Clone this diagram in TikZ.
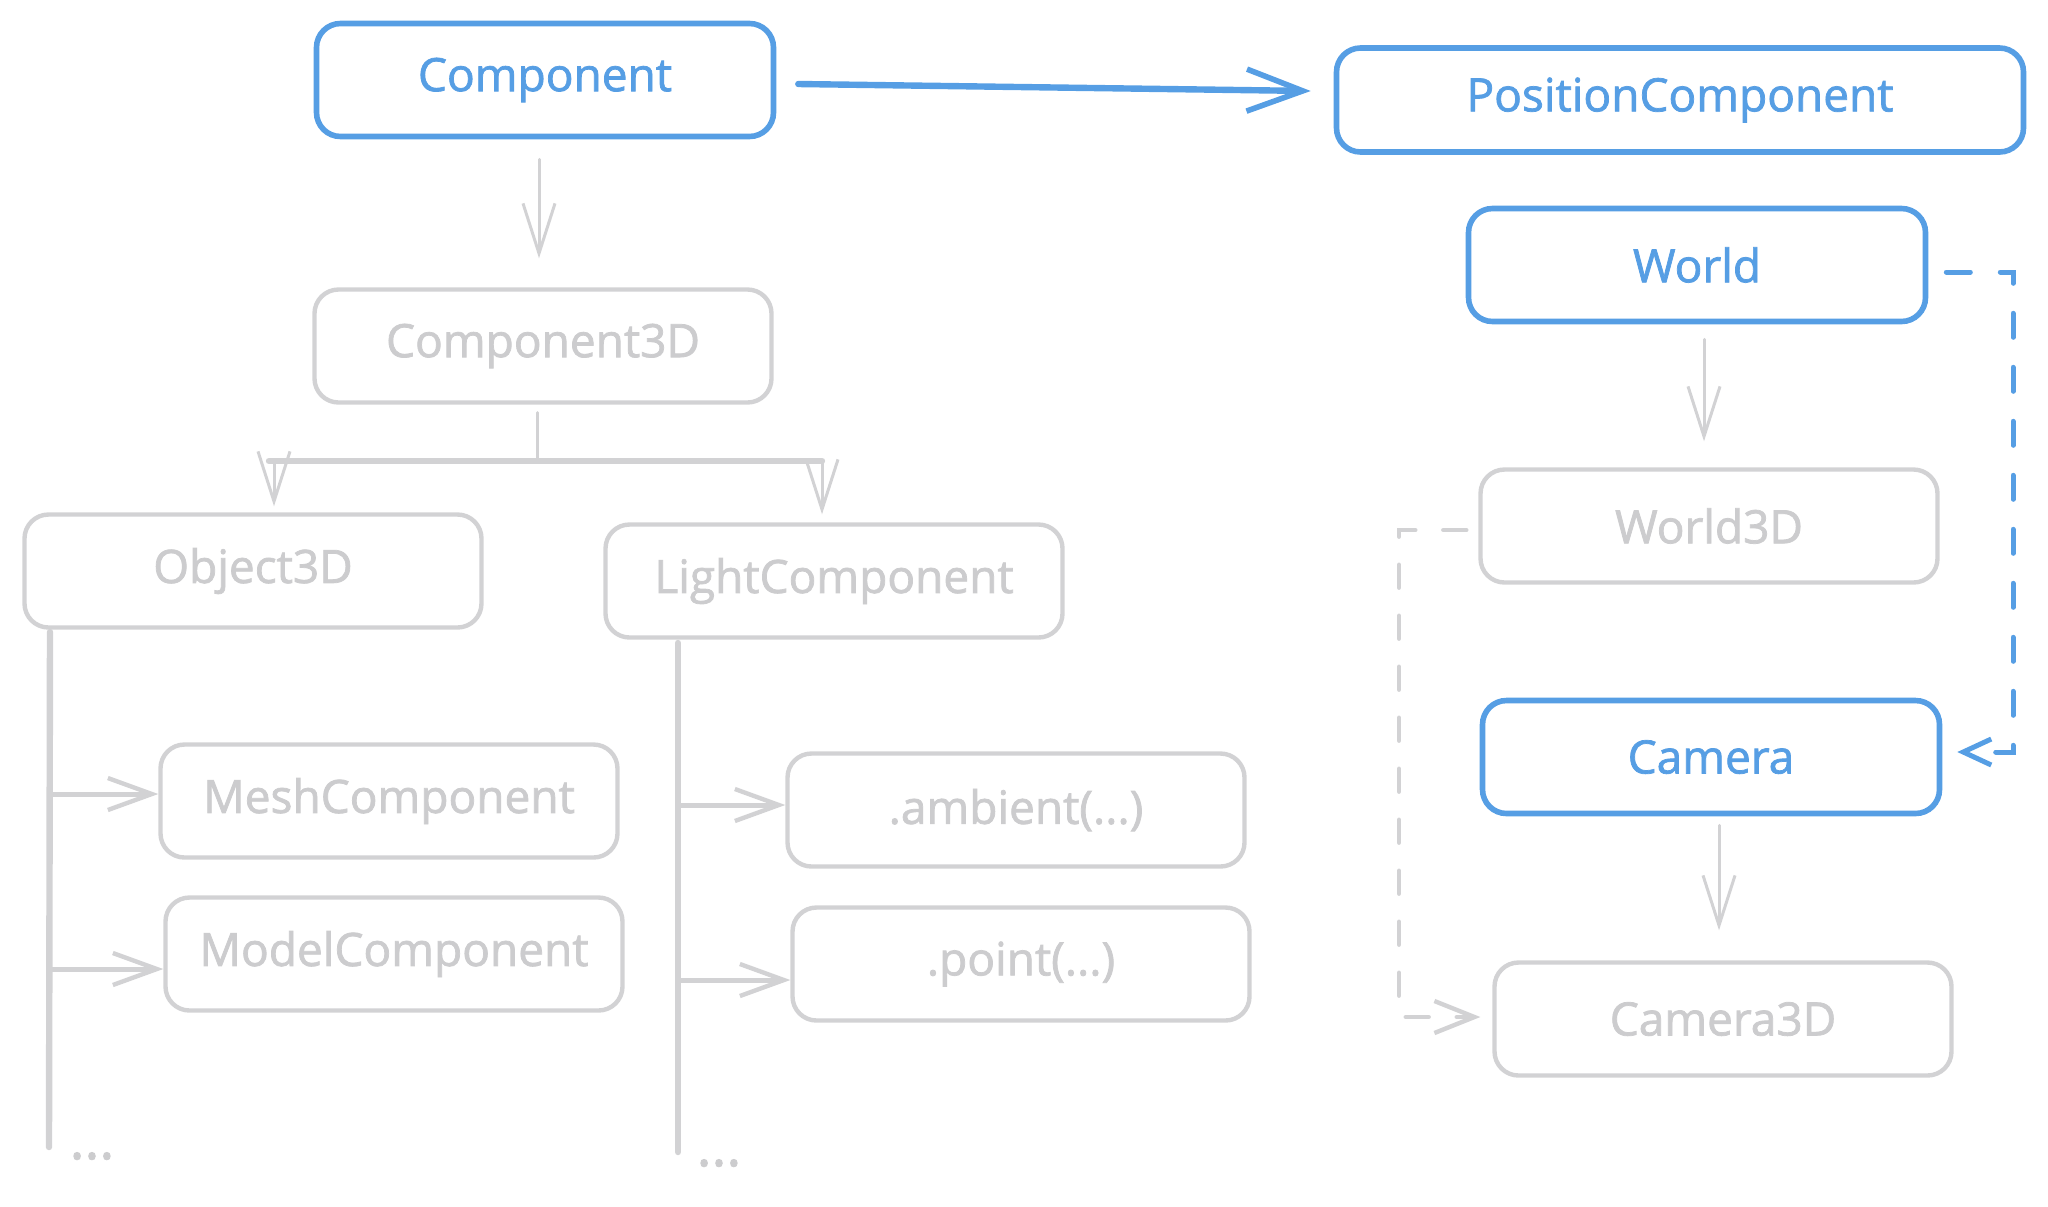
\documentclass[tikz,border=0pt]{standalone}
\usepackage{fontspec}
\setmainfont{Open Sans}[FakeBold=1.6]
\usetikzlibrary{arrows.meta,calc}
\definecolor{bl}{RGB}{86,158,228}
\definecolor{gr}{RGB}{210,210,212}
\definecolor{grt}{RGB}{204,204,206}
\begin{document}
\begin{tikzpicture}[x=0.5pt,y=-0.5pt,
  box/.style={rectangle, rounded corners=12pt, minimum width=228.5pt, minimum height=56.5pt,
    line width=2.2pt, draw=gr, text=grt, fill=white, font=\fontsize{23}{28}\selectfont},
  bbox/.style={box, draw=bl, text=bl, line width=2.8pt},
  gline/.style={draw=gr, line width=1.5pt, line cap=round},
  gthin/.style={gline, -{Straight Barb[length=25pt,width=16pt,line width=1.5pt]}},
  gbranch/.style={draw=gr, line width=2.5pt, line cap=round, -{Straight Barb[length=22pt,width=16pt,line width=2.2pt]}},
  gtrunk/.style={draw=gr, line width=3.2pt, line cap=round},
  barrow/.style={draw=bl, line width=3.2pt, line cap=round, -{Straight Barb[length=28pt,width=21pt,line width=2.8pt]}},
  bdash/.style={draw=bl, line width=2.5pt, line cap=round, dash pattern=on 12pt off 15pt, -{Straight Barb[length=14pt,width=13pt,line width=2.5pt]}},
  gdash/.style={draw=gr, line width=2.2pt, line cap=round, dash pattern=on 11.5pt off 14pt, -{Straight Barb[length=20pt,width=16pt,line width=2.2pt]}},
  dots/.style={text=grt, font=\fontsize{28}{30}\selectfont, inner sep=0pt, anchor=base}
]
\useasboundingbox (0,0) rectangle (2048,1206);

% nodes
\node[bbox] (comp) at (545,80) {Component};
\node[bbox, minimum width=343.5pt, minimum height=52pt] (pos) at (1680,100) {PositionComponent};
\node[bbox] (world) at (1697,265) {World};
\node[box] (c3d) at (543,346) {Component3D};
\node[box] (obj) at (253,571) {Object3D};
\node[box] (light) at (834,581) {LightComponent};
\node[box] (w3d) at (1709,526) {World3D};
\node[bbox] (cam) at (1711,757) {Camera};
\node[box] (mesh) at (389,801) {MeshComponent};
\node[box] (model) at (394,954) {ModelComponent};
\node[box] (amb) at (1016,810) {.ambient(...)};
\node[box] (pt) at (1021,964) {.point(...)};
\node[box] (cam3d) at (1723,1019) {Camera3D};

\node[dots] (dotsA) at (92,1159) {...};
\node[dots] (dotsB) at (719,1166) {...};

% blue arrow Component -> PositionComponent
\draw[barrow] ([xshift=11pt,yshift=-2pt]comp.east) -- ([xshift=-11.5pt,yshift=4.5pt]pos.west);

% Component -> Component3D
\draw[gthin] ([xshift=-3pt,yshift=-10pt]comp.south) -- ([xshift=-3pt,yshift=14.5pt]comp.south |- c3d.north);

% Component3D split
\coordinate (split) at (537,461);
\coordinate (splitL) at (269,461);
\coordinate (splitR) at (822,461);
\draw[gline] ([xshift=-3pt,yshift=-4pt]c3d.south) -- (split);
\draw[gtrunk] (splitL) -- (splitR);
\draw[gthin] ([xshift=2.5pt]splitL) -- ([xshift=10.5pt,yshift=3pt]obj.north);
\draw[gthin] (splitR) -- ([xshift=-6pt,yshift=4pt]light.north);

% Object3D trunk
\coordinate (objtop) at (50,632);
\coordinate (objbot) at (49,1147);
\draw[gtrunk] (objtop) -- (objbot);
\draw[gbranch] ([yshift=3.5pt]objtop |- mesh.west) -- ([yshift=3.5pt]mesh.west);
\draw[gbranch] ([yshift=-7.5pt]objtop |- model.west) -- ([yshift=-7.5pt]model.west);

% LightComponent trunk
\coordinate (ltop) at (678,643);
\coordinate (lbot) at (678,1152);
\draw[gtrunk] (ltop) -- (lbot);
\draw[gbranch] ([yshift=2.5pt]ltop |- amb.west) -- ([yshift=2.5pt]amb.west);
\draw[gbranch] ([yshift=-8pt]ltop |- pt.west) -- ([yshift=-8pt]pt.west);

% World -> World3D
\draw[gthin] ([xshift=3.5pt,yshift=-7.5pt]world.south) -- ([xshift=3.5pt,yshift=13pt]world.south |- w3d.north);

% Camera -> Camera3D
\draw[gthin] ([xshift=4pt,yshift=-4.5pt]cam.south) -- ([xshift=4pt,yshift=15pt]cam.south |- cam3d.north);

% dashed World -> Camera
\coordinate (wr1) at (2013,272);
\coordinate (wr2) at (2013,752);
\draw[bdash] ([xshift=9pt,yshift=-3.5pt]world.east) -- (wr1) -- (wr2) -- ([xshift=7.5pt,yshift=2.5pt]cam.east);

% dashed World3D -> Camera3D
\coordinate (gl1) at (1399,530);
\coordinate (gl2) at (1399,1017);
\draw[gdash] ([xshift=-6pt,yshift=-2pt]w3d.west) -- (gl1) -- (gl2) -- ([xshift=-6pt,yshift=1pt]cam3d.west);
\end{tikzpicture}
\end{document}
